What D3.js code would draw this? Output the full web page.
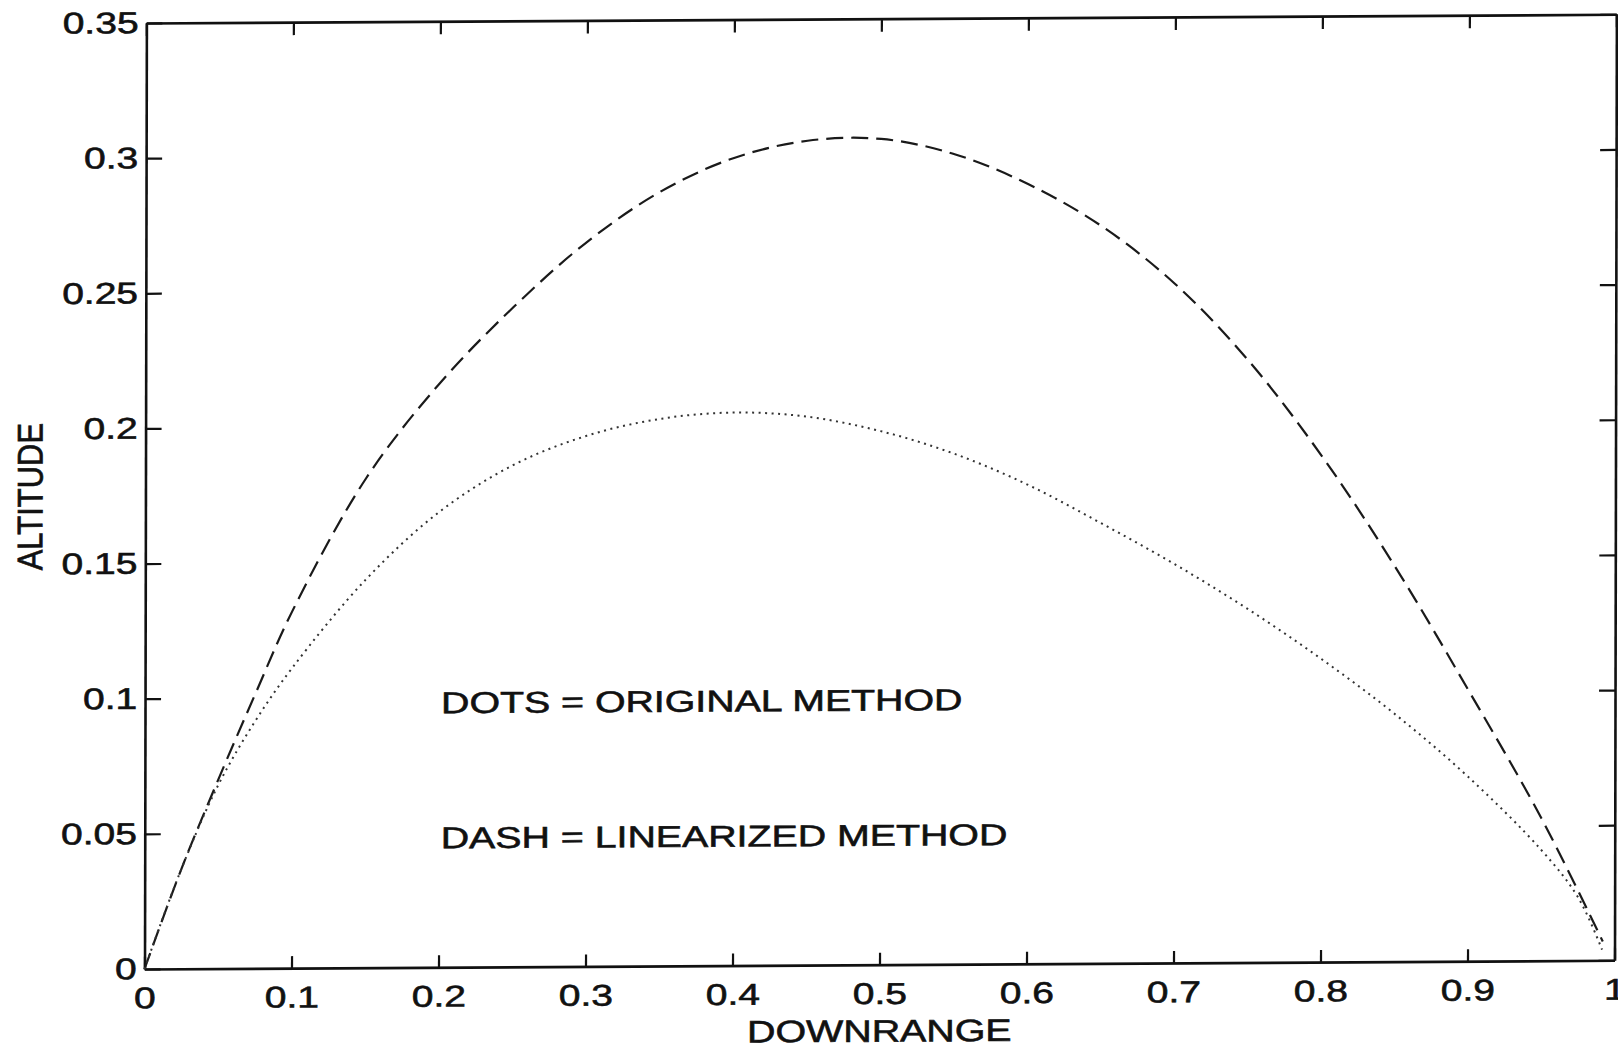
<!DOCTYPE html>
<html>
<head>
<meta charset="utf-8">
<script src="https://cdn.jsdelivr.net/npm/d3@7"></script>
<style>
  html, body { margin: 0; padding: 0; background: #fff; }
  svg { display: block; }
</style>
</head>
<body>
<script>
// ticks
var xTicks = [0, 0.1, 0.2, 0.3, 0.4, 0.5, 0.6, 0.7, 0.8, 0.9, 1];
var yTicks = [0, 0.05, 0.1, 0.15, 0.2, 0.25, 0.3, 0.35];

// DASH = LINEARIZED METHOD
var linDown = [0, 0.025, 0.05, 0.075, 0.1, 0.15, 0.2, 0.25, 0.3, 0.35, 0.4, 0.45, 0.5,
  0.55, 0.6, 0.65, 0.7, 0.75, 0.8, 0.85, 0.9, 0.95, 0.992];
var linAlt = [0, 0.037, 0.070, 0.1015, 0.132, 0.181, 0.216, 0.244, 0.268, 0.2865, 0.2988, 0.305, 0.3055,
  0.2997, 0.2885, 0.2728, 0.2513, 0.2228, 0.1874, 0.1463, 0.1005, 0.0528, 0.007];

// DOTS = ORIGINAL METHOD
var origDown = [0, 0.025, 0.05, 0.075, 0.1, 0.15, 0.2, 0.25, 0.3, 0.35, 0.4, 0.45, 0.5,
  0.55, 0.6, 0.65, 0.7, 0.75, 0.8, 0.85, 0.9, 0.95, 0.975, 0.9915];
var origAlt = [0, 0.037, 0.068, 0.0915, 0.111, 0.1436, 0.1685, 0.1856, 0.1963, 0.2024, 0.2046, 0.2029, 0.1974,
  0.1889, 0.1773, 0.1629, 0.1476, 0.1308, 0.1122, 0.0917, 0.0683, 0.041, 0.0235, 0.004];

var W = 1470, H = 946;
var font = "'Liberation Sans', Arial, Helvetica, sans-serif";

var svg = d3.select("body").append("svg")
    .attr("width", 1618)
    .attr("height", 1048);

// the scan is slightly skewed, so the whole plot sits in a skewed group
var g = svg.append("g")
    .attr("transform", "translate(144.5,969) matrix(1,-0.0059,-0.002,1,0,0)");

var x = d3.scaleLinear().domain([0, 1]).range([0, W]);
var y = d3.scaleLinear().domain([0, 0.35]).range([0, -H]);

var fmt = d3.format("~g");

//bottom axis with labels
var gx = g.append("g")
    .call(d3.axisBottom(x).tickValues(xTicks).tickSize(-12).tickSizeOuter(0).tickPadding(18).tickFormat(fmt));

//left axis with labels
var gy = g.append("g")
    .call(d3.axisLeft(y).tickValues(yTicks).tickSize(-16).tickSizeOuter(0).tickPadding(6).tickFormat(fmt));

//top and right, ticks only
var gt = g.append("g").attr("transform", "translate(0," + (-H) + ")")
    .call(d3.axisTop(x).tickValues(xTicks).tickSize(-13).tickSizeOuter(0).tickFormat(""));
var gr = g.append("g").attr("transform", "translate(" + W + ",0)")
    .call(d3.axisRight(y).tickValues(yTicks).tickSize(-16).tickSizeOuter(0).tickFormat(""));

[gx, gy, gt, gr].forEach(function (a) {
    a.select(".domain").attr("stroke", "#111").attr("stroke-width", 2.6);
    a.selectAll(".tick line").attr("stroke", "#111").attr("stroke-width", 2.2);
    a.selectAll(".tick text")
        .attr("font-family", font)
        .attr("font-size", 30)
        .attr("fill", "#111")
        .attr("stroke", "#111")
        .attr("stroke-width", 0.6)
        .attr("transform", "scale(1.3,1)");
});
gt.selectAll(".tick text").remove();
gr.selectAll(".tick text").remove();

var line = d3.line()
    .x(function (d) { return x(d[0]); })
    .y(function (d) { return y(d[1]); })
    .curve(d3.curveCatmullRom);

g.append("path")
    .datum(d3.zip(linDown, linAlt))
    .attr("d", line)
    .attr("fill", "none")
    .attr("stroke", "#1a1a1a")
    .attr("stroke-width", 2.2)
    .attr("stroke-dasharray", "17,8");

g.append("path")
    .datum(d3.zip(origDown, origAlt))
    .attr("d", line)
    .attr("fill", "none")
    .attr("stroke", "#333")
    .attr("stroke-width", 2)
    .attr("stroke-dasharray", "2,4.5");

// annotations
function label(tx, ty, txt, tr, anchor, size) {
    g.append("g").attr("transform", "translate(" + tx + "," + ty + ") " + tr)
        .append("text")
        .attr("text-anchor", anchor)
        .attr("font-family", font)
        .attr("font-size", size)
        .attr("fill", "#111")
        .attr("stroke", "#111")
        .attr("stroke-width", 0.6)
        .text(txt);
}
label(x(0.2) + 2, y(0.094), "DOTS = ORIGINAL METHOD", "scale(1.31,1)", "start", 30);
label(x(0.2) + 2, y(0.044), "DASH = LINEARIZED METHOD", "scale(1.31,1)", "start", 30);
label(x(0.5), 77, "DOWNRANGE", "scale(1.27,1)", "middle", 31);
label(-103, y(0.175), "ALTITUDE", "rotate(-90) scale(1,1.15)", "middle", 31);
</script>
</body>
</html>
